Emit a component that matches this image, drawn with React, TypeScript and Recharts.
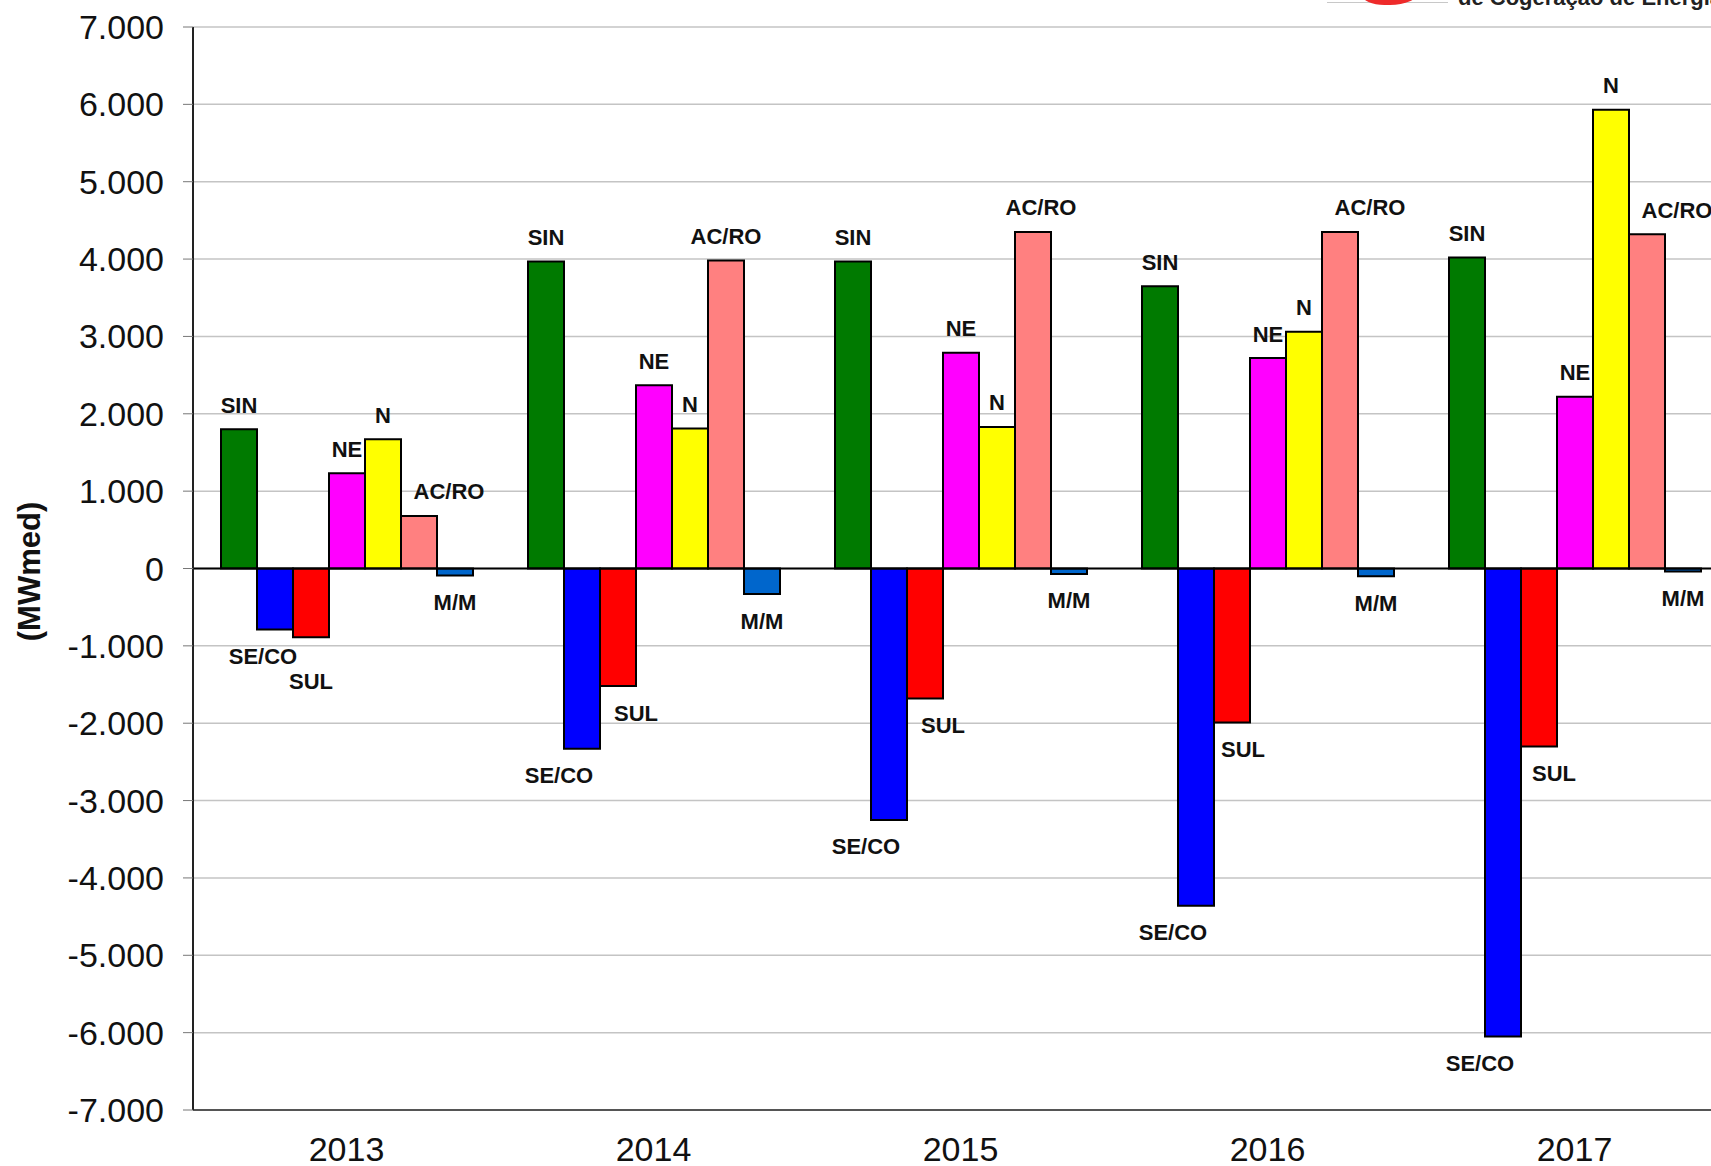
import React from "react";
import {
  BarChart,
  Bar,
  XAxis,
  YAxis,
  CartesianGrid,
  ReferenceLine,
} from "recharts";

const YEARS = ["2013", "2014", "2015", "2016", "2017"];

// MWmed por subsistema
const SIN = [1800, 3970, 3970, 3650, 4020];
const SE_CO = [-790, -2330, -3250, -4360, -6050];
const SUL = [-890, -1520, -1680, -1990, -2300];
const NE = [1230, 2370, 2790, 2720, 2220];
const N = [1670, 1810, 1830, 3060, 5930];
const AC_RO = [680, 3980, 4350, 4350, 4320];
const M_M = [-90, -330, -70, -100, -40];

const Y_TICKS = [-7000, -6000, -5000, -4000, -3000, -2000, -1000, 0, 1000, 2000, 3000, 4000, 5000, 6000, 7000];

const FONT = '"Liberation Sans", Arial, Helvetica, sans-serif';

interface Series {
  key: string;
  name: string;
  color: string;
  dx: number;
}

const SERIES: Series[] = [
  { key: "sin", name: "SIN", color: "#007a00", dx: 0 },
  { key: "seco", name: "SE/CO", color: "#0000ff", dx: -23 },
  { key: "sul", name: "SUL", color: "#ff0000", dx: 18 },
  { key: "ne", name: "NE", color: "#ff00ff", dx: 0 },
  { key: "n", name: "N", color: "#ffff00", dx: 0 },
  { key: "acro", name: "AC/RO", color: "#ff8080", dx: 30 },
  { key: "mm", name: "M/M", color: "#0066cc", dx: 0 },
];

// ajustes manuais de rótulos que se sobrepõem
const LABEL_NUDGE: Record<string, [number, number]> = {
  "2013|seco": [-12, 0],
  "2013|sul": [0, 17],
  "2014|acro": [0, 0],
  "2015|acro": [8, 0],
  "2016|sul": [11, 0],
  "2017|sul": [15, 0],
};

const data = YEARS.map((year, i) => ({
  year,
  sin: SIN[i],
  seco: SE_CO[i],
  sul: SUL[i],
  ne: NE[i],
  n: N[i],
  acro: AC_RO[i],
  mm: M_M[i],
}));

const formatThousands = (v: number) =>
  String(v).replace(/\B(?=(\d{3})+(?!\d))/g, ".");

const renderLabel = (s: Series) => (props: any) => {
  const { x, y, width, height, value, index } = props;
  const v = Number(value);
  const top = Math.min(y, y + height);
  const bottom = Math.max(y, y + height);
  const nudge = LABEL_NUDGE[`${YEARS[index]}|${s.key}`] ?? [s.dx, 0];
  const cx = x + width / 2 + nudge[0];
  const cy = v >= 0 ? top - 24 + nudge[1] : bottom + 27 + nudge[1];
  return (
    <text
      x={cx}
      y={cy}
      textAnchor="middle"
      dominantBaseline="central"
      fontFamily={FONT}
      fontWeight="bold"
      fontSize={22}
      fill="#111"
    >
      {s.name}
    </text>
  );
};

const YTitle = (props: any) => {
  const vb = props.viewBox || { x: 0, y: 0, height: 0 };
  const cx = 29;
  const cy = vb.y + vb.height / 2 + 3;
  return (
    <text
      x={cx}
      y={cy}
      transform={`rotate(-90, ${cx}, ${cy})`}
      textAnchor="middle"
      dominantBaseline="central"
      fontFamily={FONT}
      fontWeight="bold"
      fontSize={31}
      fill="#111"
    >
      (MWmed)
    </text>
  );
};

export default function App() {
  return (
    <div
      style={{
        position: "fixed",
        left: 0,
        top: 0,
        width: 1711,
        height: 1166,
        overflow: "hidden",
        background: "#fff",
      }}
    >
      {/* restos do logotipo cortado no topo */}
      <div style={{ position: "absolute", left: 1327, top: 2, width: 121, height: 1, background: "#c8c8c8" }} />
      <div
        style={{
          position: "absolute",
          left: 1362,
          top: -20,
          width: 56,
          height: 25,
          background: "#ee2a2a",
          borderRadius: "0 0 50% 40%",
        }}
      />
      <div
        style={{
          position: "absolute",
          left: 1458,
          top: -13,
          fontFamily: FONT,
          fontWeight: "bold",
          fontSize: 22,
          lineHeight: "22px",
          color: "#222",
          whiteSpace: "nowrap",
        }}
      >
        de Cogeração de Energia
      </div>

      <BarChart
        width={1740}
        height={1166}
        data={data}
        margin={{ top: 27, right: 12, bottom: 0, left: 0 }}
        barSize={36}
        barGap={0}
      >
        <CartesianGrid vertical={false} stroke="#c4c4c4" strokeWidth={1.5} />
        <XAxis
          dataKey="year"
          height={56}
          axisLine={{ stroke: "#555", strokeWidth: 2 }}
          tickLine={false}
          tickMargin={21}
          tick={{ fontFamily: FONT, fontSize: 34, fill: "#111" }}
        />
        <YAxis
          width={193}
          domain={[-7000, 7000]}
          ticks={Y_TICKS}
          interval={0}
          axisLine={{ stroke: "#222", strokeWidth: 2 }}
          tickLine={{ stroke: "#777" }}
          tickSize={10}
          tickMargin={19}
          tickFormatter={formatThousands}
          tick={{ fontFamily: FONT, fontSize: 34, fill: "#111" }}
          label={<YTitle />}
        />
        {SERIES.map((s) => (
          <Bar
            key={s.key}
            dataKey={s.key}
            name={s.name}
            fill={s.color}
            stroke="#000"
            strokeWidth={2}
            isAnimationActive={false}
            label={renderLabel(s)}
          />
        ))}
        <ReferenceLine y={0} stroke="#000" strokeWidth={2} />
      </BarChart>
    </div>
  );
}
